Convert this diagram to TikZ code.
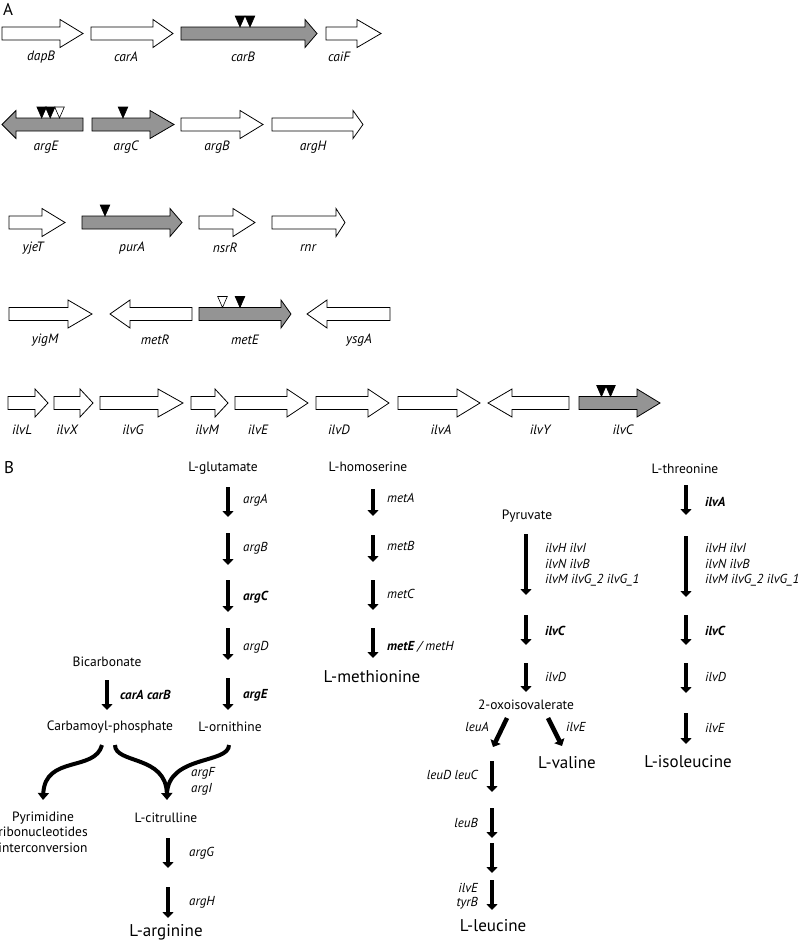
\documentclass[tikz,border=0pt]{standalone}
\usepackage{fontspec}
\setmainfont{PT Sans}
\usetikzlibrary{arrows.meta}
\newcommand\generight[5]{\draw[#5] ({#1},{#4-6.5}) -- ({#3},{#4-6.5}) -- ({#3},{#4-14}) -- ({#2},{#4}) -- ({#3},{#4+14}) -- ({#3},{#4+6.5}) -- ({#1},{#4+6.5}) -- cycle;}
\newcommand\geneleft[5]{\draw[#5] ({#2},{#4-6.5}) -- ({#3},{#4-6.5}) -- ({#3},{#4-14}) -- ({#1},{#4}) -- ({#3},{#4+14}) -- ({#3},{#4+6.5}) -- ({#2},{#4+6.5}) -- cycle;}
\newcommand\hitmark[3]{\draw[tri,fill=#3] ({#1-4.8},{#2-11}) -- ({#1+4.8},{#2-11}) -- ({#1},{#2}) -- cycle;}
\begin{document}
\begin{tikzpicture}[x=1pt,y=-1pt,
  gene/.style={draw=black, line width=0.8pt, fill=white, line join=miter},
  hit/.style={gene, fill=black!42},
  tri/.style={draw=black, line width=0.6pt, line join=miter},
  glab/.style={font=\fontsize{13.5}{15}\selectfont\itshape, inner sep=0pt},
  mlab/.style={font=\fontsize{13.5}{15}\selectfont, inner sep=0pt},
  plab/.style={font=\fontsize{17}{19}\selectfont, inner sep=0pt},
  elab/.style={font=\fontsize{13}{15}\selectfont\itshape, inner sep=0pt, anchor=west},
  erlab/.style={elab, anchor=east},
  panel/.style={font=\fontsize{17}{19}\selectfont, inner sep=0pt},
  rxn/.style={line width=4.5pt, -{Triangle[width=11pt,length=6pt]}},
  curve/.style={line width=4pt},
  curvearr/.style={line width=4pt, -{Triangle[width=11pt,length=7pt]}}]
\useasboundingbox (0,0) rectangle (800,940);

% ---------------- Panel A ----------------
\node[panel] (A) at (8,9) {A};

% row 1
\generight{2}{83}{60}{33.5}{gene}
\generight{91}{173}{153}{33.5}{gene}
\generight{181}{317}{305}{33.5}{hit}
\generight{326}{381}{357}{33.5}{gene}
\hitmark{240}{27}{black}
\hitmark{250}{27}{black}
\node[glab] (dapB) at (41,57) {dapB};
\node[glab] (carA) at (126,57) {carA};
\node[glab] (carB) at (243,57) {carB};
\node[glab] (caiF) at (339,57) {caiF};

% row 2
\geneleft{2}{83}{16}{124.5}{hit}
\generight{92}{174}{150}{124.5}{hit}
\generight{181}{263}{240}{124.5}{gene}
\generight{272}{363}{353}{124.5}{gene}
\hitmark{41.7}{118}{black}
\hitmark{50.2}{118}{black}
\hitmark{59.5}{118}{white}
\hitmark{123}{118}{black}
\node[glab] (argE) at (46,147) {argE};
\node[glab] (argC) at (126,147) {argC};
\node[glab] (argB) at (217,147) {argB};
\node[glab] (argH) at (313,147) {argH};

% row 3
\generight{9}{65}{42}{222.5}{gene}
\generight{82}{182}{170}{222.5}{hit}
\generight{199}{255}{233}{222.5}{gene}
\generight{272}{345}{336}{222.5}{gene}
\hitmark{105}{216}{black}
\node[glab] (yjeT) at (33,248) {yjeT};
\node[glab] (purA) at (132,248) {purA};
\node[glab] (nsrR) at (225,248) {nsrR};
\node[glab] (rnr) at (308,248) {rnr};

% row 4
\generight{9}{92}{68}{314}{gene}
\geneleft{110}{192}{130}{314}{gene}
\generight{199}{291}{281}{314}{hit}
\geneleft{307}{390}{327}{314}{gene}
\hitmark{222.5}{307.5}{white}
\hitmark{240}{307.5}{black}
\node[glab] (yigM) at (45,340) {yigM};
\node[glab] (metR) at (155,340) {metR};
\node[glab] (metE) at (245,340) {metE};
\node[glab] (ysgA) at (359,340) {ysgA};

% row 5
\generight{8}{48}{35}{403}{gene}
\generight{54}{93}{80}{403}{gene}
\generight{100}{183}{158}{403}{gene}
\generight{191}{228}{215}{403}{gene}
\generight{235}{308}{287}{403}{gene}
\generight{316}{389}{368}{403}{gene}
\generight{398}{480}{457}{403}{gene}
\geneleft{488}{569}{512}{403}{gene}
\generight{579}{660}{637}{403}{hit}
\hitmark{601.5}{396.5}{black}
\hitmark{610.5}{396.5}{black}
\node[glab] (ilvL) at (22,430) {ilvL};
\node[glab] (ilvX) at (67,430) {ilvX};
\node[glab] (ilvG) at (133,430) {ilvG};
\node[glab] (ilvM) at (207,430) {ilvM};
\node[glab] (ilvE) at (258,430) {ilvE};
\node[glab] (ilvD) at (339,430) {ilvD};
\node[glab] (ilvA) at (441,430) {ilvA};
\node[glab] (ilvY) at (540,430) {ilvY};
\node[glab] (ilvC) at (623,430) {ilvC};

% ---------------- Panel B ----------------
\node[panel] (B) at (9,468) {B};

\node[mlab] (glu) at (223,468) {L-glutamate};
\node[mlab] (hser) at (368,467) {L-homoserine};
\node[mlab] (thr) at (685,469) {L-threonine};
\node[mlab] (pyr) at (527,516) {Pyruvate};
\node[mlab] (bic) at (107,662) {Bicarbonate};
\node[plab] (met) at (372,677) {L-methionine};
\node[mlab] (cp) at (110,727) {Carbamoyl-phosphate};
\node[mlab] (orn) at (230,727) {L-ornithine};
\node[mlab] (oiv) at (526,705) {2-oxoisovalerate};
\node[plab] (val) at (567,763) {L-valine};
\node[plab] (ile) at (688,762) {L-isoleucine};
\node[mlab] (cit) at (166,818) {L-citrulline};
\node[mlab, align=center, font=\fontsize{13.5}{15.5}\selectfont] (pyrim) at (43,832) {Pyrimidine\\ribonucleotides\\interconversion};
\node[plab] (arg) at (166,932) {L-arginine};
\node[plab] (leu) at (493,926) {L-leucine};

% arginine branch
\draw[rxn] (228,487) -- (228,517);
\draw[rxn] (228,533) -- (228,565);
\draw[rxn] (228,580) -- (228,612);
\draw[rxn] (228,628) -- (228,660);
\draw[rxn] (228,678) -- (228,710);
\node[elab] at (243,500) {argA};
\node[elab] at (243,548) {argB};
\node[elab] at (243,597) {\textbf{argC}};
\node[elab] at (243,647) {argD};
\node[elab] at (243,695) {\textbf{argE}};

\draw[rxn] (107,680) -- (107,710);
\node[elab] at (120,695) {\textbf{carA carB}};

\draw[curvearr] (102,745) .. controls (95,772) and (45,755) .. (43,800);
\draw[curvearr] (115,745) .. controls (115,764) and (166,755) .. (167,800);
\draw[curve] (229,745) .. controls (229,764) and (168,755) .. (167,794);
\node[elab] at (191,773) {argF};
\node[elab] at (191,789) {argI};

\draw[rxn] (168,838) -- (168,868);
\draw[rxn] (168,887) -- (168,918);
\node[elab] at (189,853) {argG};
\node[elab] at (189,902) {argH};

% methionine branch
\draw[rxn] (373,489) -- (373,516);
\draw[rxn] (373,535) -- (373,562);
\draw[rxn] (373,580) -- (373,610);
\draw[rxn] (373,628) -- (373,658);
\node[elab] at (387,498) {metA};
\node[elab] at (387,546) {metB};
\node[elab] at (387,594) {metC};
\node[elab] at (387,647) {\textbf{metE} / metH};

% valine / leucine branch
\draw[rxn] (526,534) -- (526,595);
\node[elab] at (545,548) {ilvH ilvI};
\node[elab] at (545,564) {ilvN ilvB};
\node[elab] at (545,580) {ilvM ilvG\_2 ilvG\_1};
\draw[rxn] (526,615) -- (526,645);
\node[elab] at (545,631) {\textbf{ilvC}};
\draw[rxn] (526,663) -- (526,692);
\node[elab] at (545,677) {ilvD};

\draw[rxn] (507,718) -- (493,747);
\node[erlab] at (489,727) {leuA};
\draw[rxn] (548,718) -- (562,746);
\node[elab] at (566,727) {ilvE};

\draw[rxn] (492,761) -- (492,792);
\draw[rxn] (492,808) -- (492,838);
\draw[rxn] (492,843) -- (492,873);
\draw[rxn] (492,880) -- (492,910);
\node[erlab] at (478,775) {leuD leuC};
\node[erlab] at (478,823) {leuB};
\node[erlab] at (478,888) {ilvE};
\node[erlab] at (478,903) {tyrB};

% isoleucine branch
\draw[rxn] (686,485) -- (686,515);
\node[elab] at (705,502) {\textbf{ilvA}};
\draw[rxn] (686,536) -- (686,597);
\node[elab] at (705,548) {ilvH ilvI};
\node[elab] at (705,564) {ilvN ilvB};
\node[elab] at (705,580) {ilvM ilvG\_2 ilvG\_1};
\draw[rxn] (686,615) -- (686,645);
\node[elab] at (705,631) {\textbf{ilvC}};
\draw[rxn] (686,663) -- (686,693);
\node[elab] at (705,677) {ilvD};
\draw[rxn] (686,713) -- (686,744);
\node[elab] at (705,728) {ilvE};
\end{tikzpicture}
\end{document}
